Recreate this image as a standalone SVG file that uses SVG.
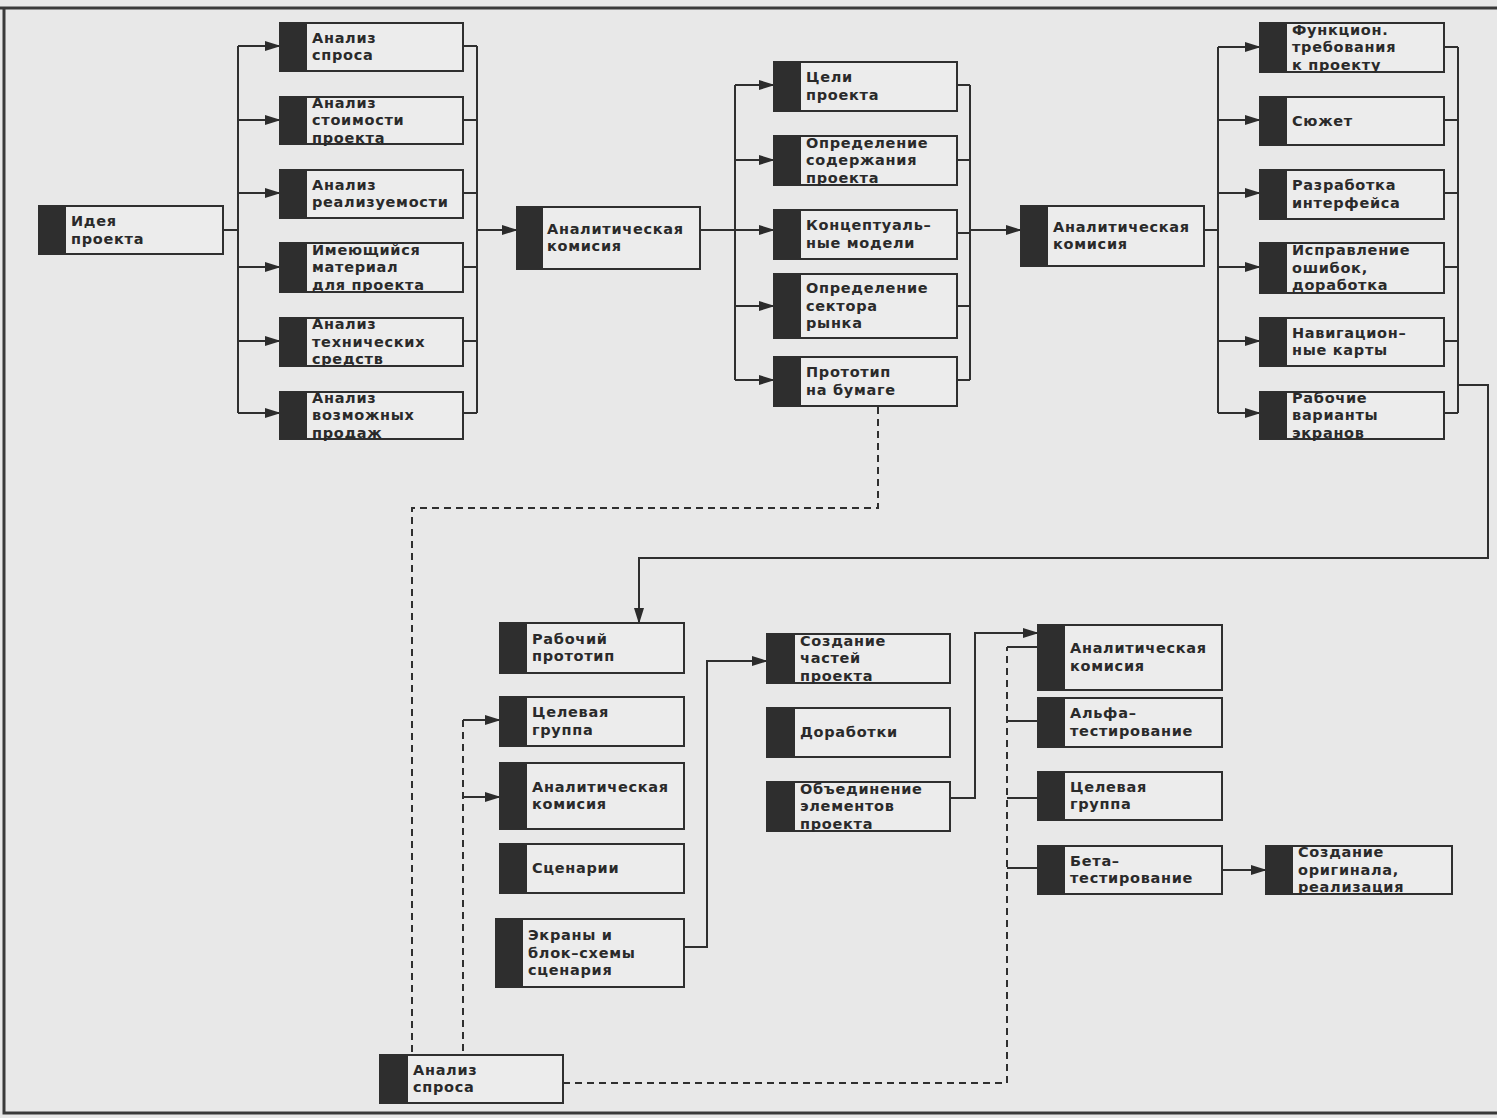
<svg xmlns="http://www.w3.org/2000/svg" width="1497" height="1118" viewBox="0 0 1497 1118">
<defs>
<marker id="ah" markerWidth="16" markerHeight="12" refX="15" refY="6" orient="auto" markerUnits="userSpaceOnUse"><path d="M0,1 L16,6 L0,11 z" fill="#2b2b2b"/></marker>
<style>
.bg{fill:#e8e8e8}
.box{fill:#ececec;stroke:#2f2f2f;stroke-width:2}
.bar{fill:#2e2e2e}
.t{font-family:"DejaVu Sans","Liberation Sans",sans-serif;font-size:14.5px;font-weight:bold;fill:#2a2a2a;letter-spacing:0.7px}
.c{fill:none;stroke:#2f2f2f;stroke-width:2}
.d{fill:none;stroke:#2f2f2f;stroke-width:2;stroke-dasharray:7 5}
.fr{fill:none;stroke:#3a3a3a;stroke-width:3}
</style>
</defs>
<rect class="bg" x="0" y="0" width="1497" height="1118"/>
<path class="fr" d="M0,8 H1497 M4,8 V1113 H1497"/>

<g id="connectors">
<path class="c" d="M223,230 H238 M238,46 V413"/>
<path class="c" marker-end="url(#ah)" d="M238,46 H280"/>
<path class="c" marker-end="url(#ah)" d="M238,120 H280"/>
<path class="c" marker-end="url(#ah)" d="M238,193 H280"/>
<path class="c" marker-end="url(#ah)" d="M238,267 H280"/>
<path class="c" marker-end="url(#ah)" d="M238,341 H280"/>
<path class="c" marker-end="url(#ah)" d="M238,413 H280"/>
<path class="c" d="M463,46 H477 M463,120 H477 M463,193 H477 M463,267 H477 M463,341 H477 M463,413 H477 M477,46 V413"/>
<path class="c" marker-end="url(#ah)" d="M477,230 H517"/>
<path class="c" d="M700,230 H735 M735,85 V380"/>
<path class="c" marker-end="url(#ah)" d="M735,85 H774"/>
<path class="c" marker-end="url(#ah)" d="M735,160 H774"/>
<path class="c" marker-end="url(#ah)" d="M735,230 H774"/>
<path class="c" marker-end="url(#ah)" d="M735,306 H774"/>
<path class="c" marker-end="url(#ah)" d="M735,380 H774"/>
<path class="c" d="M957,85 H970 M957,160 H970 M957,233 H970 M957,306 H970 M957,380 H970 M970,85 V380"/>
<path class="c" marker-end="url(#ah)" d="M970,230 H1021"/>
<path class="c" d="M1204,230 H1218 M1218,47 V413"/>
<path class="c" marker-end="url(#ah)" d="M1218,47 H1260"/>
<path class="c" marker-end="url(#ah)" d="M1218,120 H1260"/>
<path class="c" marker-end="url(#ah)" d="M1218,193 H1260"/>
<path class="c" marker-end="url(#ah)" d="M1218,267 H1260"/>
<path class="c" marker-end="url(#ah)" d="M1218,341 H1260"/>
<path class="c" marker-end="url(#ah)" d="M1218,413 H1260"/>
<path class="c" d="M1444,47 H1458 M1444,120 H1458 M1444,193 H1458 M1444,267 H1458 M1444,341 H1458 M1444,413 H1458 M1458,47 V413"/>
<path class="c" marker-end="url(#ah)" d="M1458,385 H1488 V558 H639 V623"/>
<path class="d" d="M878,407 V508 H412 V1055"/>
<path class="d" d="M463,720 V1055"/>
<path class="c" marker-end="url(#ah)" d="M463,720 H500"/>
<path class="c" marker-end="url(#ah)" d="M463,797 H500"/>
<path class="d" d="M563,1083 H1007 V647"/>
<path class="c" d="M1007,647 H1038 M1007,721 H1038 M1007,798 H1038 M1007,868 H1038"/>
<path class="c" marker-end="url(#ah)" d="M684,947 H707 V661 H767"/>
<path class="c" marker-end="url(#ah)" d="M950,798 H975 V633 H1038"/>
<path class="c" marker-end="url(#ah)" d="M1222,870 H1266"/>
</g>

<g id="n-idea"><rect class="box" x="39" y="206" width="184" height="48"/><rect class="bar" x="39" y="206" width="27" height="48"/><text class="t"><tspan x="71" y="226">Идея</tspan><tspan x="71" y="243.5">проекта</tspan></text></g>

<g id="n-c1a"><rect class="box" x="280" y="23" width="183" height="48"/><rect class="bar" x="280" y="23" width="27" height="48"/><text class="t"><tspan x="312" y="43">Анализ</tspan><tspan x="312" y="60">спроса</tspan></text></g>
<g id="n-c1b"><rect class="box" x="280" y="97" width="183" height="47"/><rect class="bar" x="280" y="97" width="27" height="47"/><text class="t"><tspan x="312" y="107.5">Анализ</tspan><tspan x="312" y="125">стоимости</tspan><tspan x="312" y="142.5">проекта</tspan></text></g>
<g id="n-c1c"><rect class="box" x="280" y="170" width="183" height="48"/><rect class="bar" x="280" y="170" width="27" height="48"/><text class="t"><tspan x="312" y="190">Анализ</tspan><tspan x="312" y="207">реализуемости</tspan></text></g>
<g id="n-c1d"><rect class="box" x="280" y="243" width="183" height="49"/><rect class="bar" x="280" y="243" width="27" height="49"/><text class="t"><tspan x="312" y="254.5">Имеющийся</tspan><tspan x="312" y="272">материал</tspan><tspan x="312" y="289.5">для проекта</tspan></text></g>
<g id="n-c1e"><rect class="box" x="280" y="318" width="183" height="48"/><rect class="bar" x="280" y="318" width="27" height="48"/><text class="t"><tspan x="312" y="329">Анализ</tspan><tspan x="312" y="346.5">технических</tspan><tspan x="312" y="364">средств</tspan></text></g>
<g id="n-c1f"><rect class="box" x="280" y="392" width="183" height="47"/><rect class="bar" x="280" y="392" width="27" height="47"/><text class="t"><tspan x="312" y="402.5">Анализ</tspan><tspan x="312" y="420">возможных</tspan><tspan x="312" y="437.5">продаж</tspan></text></g>

<g id="n-ak1"><rect class="box" x="517" y="207" width="183" height="62"/><rect class="bar" x="517" y="207" width="26" height="62"/><text class="t"><tspan x="547" y="233.5">Аналитическая</tspan><tspan x="547" y="251">комисия</tspan></text></g>

<g id="n-c2a"><rect class="box" x="774" y="62" width="183" height="49"/><rect class="bar" x="774" y="62" width="27" height="49"/><text class="t"><tspan x="806" y="82">Цели</tspan><tspan x="806" y="99.5">проекта</tspan></text></g>
<g id="n-c2b"><rect class="box" x="774" y="136" width="183" height="49"/><rect class="bar" x="774" y="136" width="27" height="49"/><text class="t"><tspan x="806" y="147.5">Определение</tspan><tspan x="806" y="165">содержания</tspan><tspan x="806" y="182.5">проекта</tspan></text></g>
<g id="n-c2c"><rect class="box" x="774" y="210" width="183" height="49"/><rect class="bar" x="774" y="210" width="27" height="49"/><text class="t"><tspan x="806" y="230">Концептуаль–</tspan><tspan x="806" y="247.5">ные модели</tspan></text></g>
<g id="n-c2d"><rect class="box" x="774" y="274" width="183" height="64"/><rect class="bar" x="774" y="274" width="27" height="64"/><text class="t"><tspan x="806" y="293">Определение</tspan><tspan x="806" y="310.5">сектора</tspan><tspan x="806" y="328">рынка</tspan></text></g>
<g id="n-c2e"><rect class="box" x="774" y="357" width="183" height="49"/><rect class="bar" x="774" y="357" width="27" height="49"/><text class="t"><tspan x="806" y="377">Прототип</tspan><tspan x="806" y="394.5">на бумаге</tspan></text></g>

<g id="n-ak2"><rect class="box" x="1021" y="206" width="183" height="60"/><rect class="bar" x="1021" y="206" width="27" height="60"/><text class="t"><tspan x="1053" y="231.5">Аналитическая</tspan><tspan x="1053" y="249">комисия</tspan></text></g>

<g id="n-c3a"><rect class="box" x="1260" y="23" width="184" height="49"/><rect class="bar" x="1260" y="23" width="27" height="49"/><text class="t"><tspan x="1292" y="34.5">Функцион.</tspan><tspan x="1292" y="52">требования</tspan><tspan x="1292" y="69.5">к проекту</tspan></text></g>
<g id="n-c3b"><rect class="box" x="1260" y="97" width="184" height="48"/><rect class="bar" x="1260" y="97" width="27" height="48"/><text class="t" x="1292" y="125.5">Сюжет</text></g>
<g id="n-c3c"><rect class="box" x="1260" y="170" width="184" height="49"/><rect class="bar" x="1260" y="170" width="27" height="49"/><text class="t"><tspan x="1292" y="190">Разработка</tspan><tspan x="1292" y="207.5">интерфейса</tspan></text></g>
<g id="n-c3d"><rect class="box" x="1260" y="243" width="184" height="50"/><rect class="bar" x="1260" y="243" width="27" height="50"/><text class="t"><tspan x="1292" y="255">Исправление</tspan><tspan x="1292" y="272.5">ошибок,</tspan><tspan x="1292" y="290">доработка</tspan></text></g>
<g id="n-c3e"><rect class="box" x="1260" y="318" width="184" height="48"/><rect class="bar" x="1260" y="318" width="27" height="48"/><text class="t"><tspan x="1292" y="337.5">Навигацион–</tspan><tspan x="1292" y="355">ные карты</tspan></text></g>
<g id="n-c3f"><rect class="box" x="1260" y="392" width="184" height="47"/><rect class="bar" x="1260" y="392" width="27" height="47"/><text class="t"><tspan x="1292" y="402.5">Рабочие</tspan><tspan x="1292" y="420">варианты</tspan><tspan x="1292" y="437.5">экранов</tspan></text></g>

<g id="n-b1"><rect class="box" x="500" y="623" width="184" height="50"/><rect class="bar" x="500" y="623" width="27" height="50"/><text class="t"><tspan x="532" y="643.5">Рабочий</tspan><tspan x="532" y="661">прототип</tspan></text></g>
<g id="n-b2"><rect class="box" x="500" y="697" width="184" height="49"/><rect class="bar" x="500" y="697" width="27" height="49"/><text class="t"><tspan x="532" y="717">Целевая</tspan><tspan x="532" y="734.5">группа</tspan></text></g>
<g id="n-b3"><rect class="box" x="500" y="763" width="184" height="66"/><rect class="bar" x="500" y="763" width="27" height="66"/><text class="t"><tspan x="532" y="791.5">Аналитическая</tspan><tspan x="532" y="809">комисия</tspan></text></g>
<g id="n-b4"><rect class="box" x="500" y="844" width="184" height="49"/><rect class="bar" x="500" y="844" width="27" height="49"/><text class="t" x="532" y="873">Сценарии</text></g>
<g id="n-b5"><rect class="box" x="496" y="919" width="188" height="68"/><rect class="bar" x="496" y="919" width="27" height="68"/><text class="t"><tspan x="528" y="940">Экраны и</tspan><tspan x="528" y="957.5">блок–схемы</tspan><tspan x="528" y="975">сценария</tspan></text></g>
<g id="n-b6"><rect class="box" x="380" y="1055" width="183" height="48"/><rect class="bar" x="380" y="1055" width="28" height="48"/><text class="t"><tspan x="413" y="1074.5">Анализ</tspan><tspan x="413" y="1092">спроса</tspan></text></g>

<g id="n-m1"><rect class="box" x="767" y="634" width="183" height="49"/><rect class="bar" x="767" y="634" width="28" height="49"/><text class="t"><tspan x="800" y="645.5">Создание</tspan><tspan x="800" y="663">частей</tspan><tspan x="800" y="680.5">проекта</tspan></text></g>
<g id="n-m2"><rect class="box" x="767" y="708" width="183" height="49"/><rect class="bar" x="767" y="708" width="28" height="49"/><text class="t" x="800" y="737">Доработки</text></g>
<g id="n-m3"><rect class="box" x="767" y="782" width="183" height="49"/><rect class="bar" x="767" y="782" width="28" height="49"/><text class="t"><tspan x="800" y="793.5">Объединение</tspan><tspan x="800" y="811">элементов</tspan><tspan x="800" y="828.5">проекта</tspan></text></g>

<g id="n-r1"><rect class="box" x="1038" y="625" width="184" height="65"/><rect class="bar" x="1038" y="625" width="27" height="65"/><text class="t"><tspan x="1070" y="653">Аналитическая</tspan><tspan x="1070" y="670.5">комисия</tspan></text></g>
<g id="n-r2"><rect class="box" x="1038" y="698" width="184" height="49"/><rect class="bar" x="1038" y="698" width="27" height="49"/><text class="t"><tspan x="1070" y="718">Альфа–</tspan><tspan x="1070" y="735.5">тестирование</tspan></text></g>
<g id="n-r3"><rect class="box" x="1038" y="772" width="184" height="48"/><rect class="bar" x="1038" y="772" width="27" height="48"/><text class="t"><tspan x="1070" y="791.5">Целевая</tspan><tspan x="1070" y="809">группа</tspan></text></g>
<g id="n-r4"><rect class="box" x="1038" y="846" width="184" height="48"/><rect class="bar" x="1038" y="846" width="27" height="48"/><text class="t"><tspan x="1070" y="865.5">Бета–</tspan><tspan x="1070" y="883">тестирование</tspan></text></g>
<g id="n-r5"><rect class="box" x="1266" y="846" width="186" height="48"/><rect class="bar" x="1266" y="846" width="27" height="48"/><text class="t"><tspan x="1298" y="857">Создание</tspan><tspan x="1298" y="874.5">оригинала,</tspan><tspan x="1298" y="892">реализация</tspan></text></g>
</svg>
